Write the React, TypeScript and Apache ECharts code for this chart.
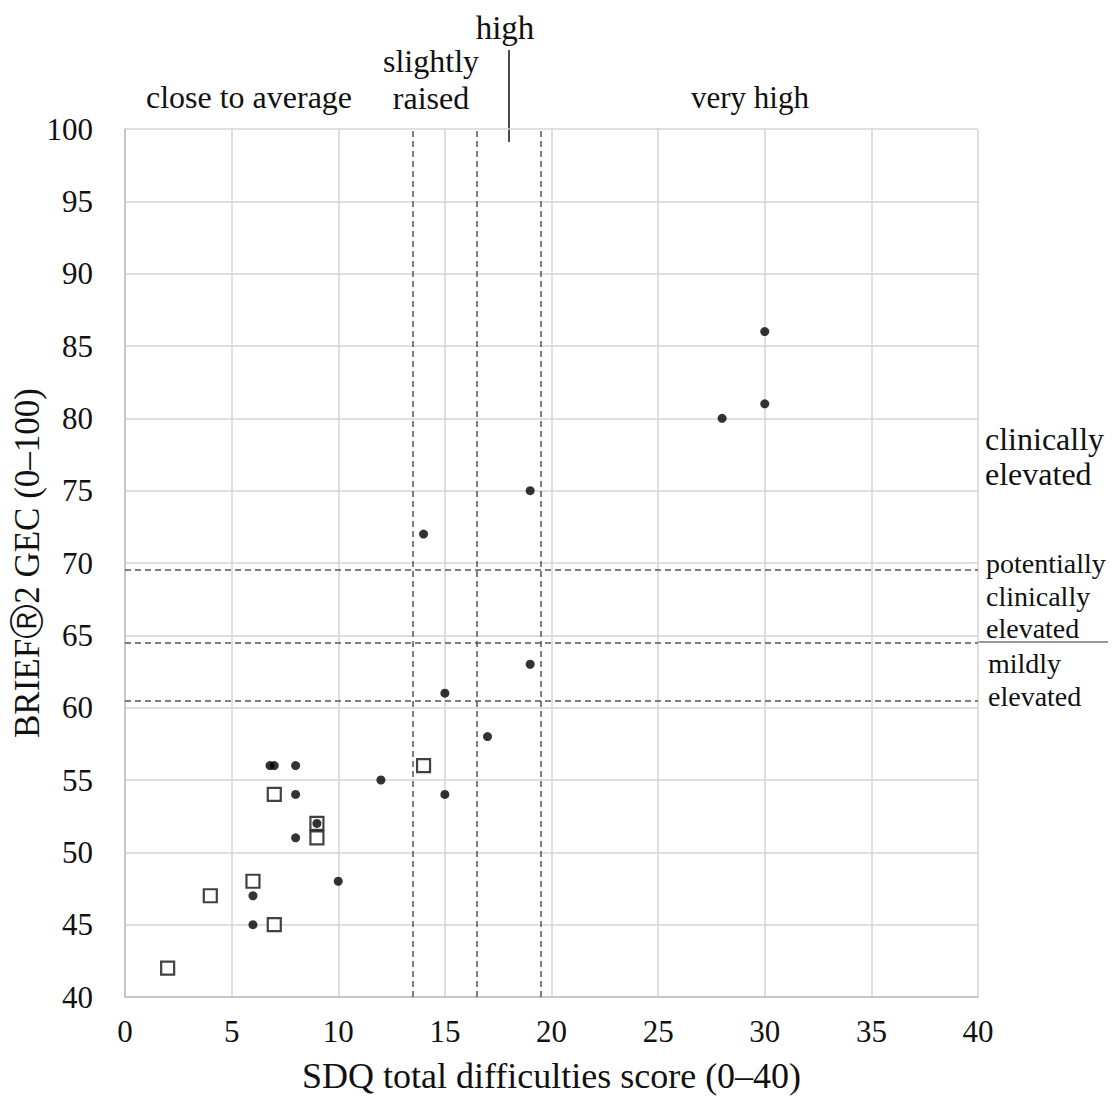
import React, { useEffect, useRef } from "react";
import * as echarts from "echarts";

const xTicks = [0, 5, 10, 15, 20, 25, 30, 35, 40];
const yTicks = [40, 45, 50, 55, 60, 65, 70, 75, 80, 85, 90, 95, 100];

// Filled dots (x = SDQ, y = BRIEF GEC)
const dotsX = [30, 30, 28, 19, 14, 19, 15, 17, 6.8, 7, 8, 12, 15, 8, 9, 8, 10, 6, 6];
const dotsY = [86, 81, 80, 75, 72, 63, 61, 58, 56, 56, 56, 55, 54, 54, 52, 51, 48, 47, 45];

// Open squares
const squaresX = [14, 7, 9, 9, 6, 4, 7, 2];
const squaresY = [56, 54, 52, 51, 48, 47, 45, 42];

const sdqCutoffs = [13.5, 16.5, 19.5];
const briefCutoffs = [69.5, 64.5, 60.5];

const SERIF = "'Liberation Serif', 'Times New Roman', serif";
const TXT = "#111111";

export default function App() {
  const ref = useRef<HTMLDivElement>(null);
  useEffect(() => {
    const chart = echarts.init(ref.current!, null, { renderer: "svg" });
    const dots = dotsX.map((x, i) => [x, dotsY[i]]);
    const squares = squaresX.map((x, i) => [x, squaresY[i]]);
    const txt = (text: string, x: number, y: number, align: string, size: number, lh: number) => ({
      type: "text",
      x,
      y,
      style: {
        text,
        fontFamily: SERIF,
        fontSize: size,
        lineHeight: lh,
        fill: TXT,
        align,
        verticalAlign: "middle",
      },
      silent: true,
    });
    chart.setOption({
      animation: false,
      backgroundColor: "#ffffff",
      grid: {
        left: 125,
        right: 134,
        top: 129,
        bottom: 103,
        containLabel: false,
        outerBoundsMode: "none",
      },
      xAxis: {
        type: "value",
        min: 0,
        max: 40,
        interval: 5,
        name: "SDQ total difficulties score (0\u201340)",
        nameLocation: "middle",
        nameGap: 61,
        nameMoveOverlap: false,
        nameTextStyle: { fontFamily: SERIF, fontSize: 36, color: TXT },
        axisLine: { show: true, lineStyle: { color: "#bfbfbf", width: 1.5 } },
        axisTick: { show: false },
        splitLine: { show: true, lineStyle: { color: "#d4d4d4", width: 1.5 } },
        axisLabel: {
          fontFamily: SERIF,
          fontSize: 31,
          color: TXT,
          margin: 19,
          formatter: (v: number) => (xTicks.includes(v) ? String(v) : ""),
        },
      },
      yAxis: {
        type: "value",
        min: 40,
        max: 100,
        interval: 5,
        name: "BRIEF\u24C72 GEC (0\u2013100)",
        nameLocation: "middle",
        nameGap: 80,
        nameMoveOverlap: false,
        nameRotate: 90,
        nameTextStyle: { fontFamily: SERIF, fontSize: 35, color: TXT },
        axisLine: { show: true, lineStyle: { color: "#bfbfbf", width: 1.5 } },
        axisTick: { show: false },
        splitLine: { show: true, lineStyle: { color: "#d4d4d4", width: 1.5 } },
        axisLabel: {
          fontFamily: SERIF,
          fontSize: 31,
          color: TXT,
          margin: 32,
          formatter: (v: number) => (yTicks.includes(v) ? String(v) : ""),
        },
      },
      series: [
        {
          type: "scatter",
          data: squares,
          symbol: "rect",
          symbolSize: 13,
          itemStyle: { color: "#ffffff", borderColor: "#111", borderWidth: 2.2 },
          z: 3,
          markLine: {
            silent: true,
            symbol: ["none", "none"],
            label: { show: false },
            lineStyle: { type: [6, 4], color: "#555", width: 1.5 },
            data: [
              ...sdqCutoffs.map((v) => ({ xAxis: v })),
              ...briefCutoffs.map((v) => ({ yAxis: v })),
            ],
          },
        },
        {
          type: "scatter",
          data: dots,
          symbol: "circle",
          symbolSize: 9,
          itemStyle: { color: "#000" },
          z: 4,
        },
      ],
      graphic: [
        txt("close to average", 249, 97, "center", 32, 30),
        txt("slightly\nraised", 431, 79, "center", 32, 37),
        txt("high", 505, 28, "center", 33, 30),
        txt("very high", 750, 97, "center", 31, 30),
        txt("clinically\nelevated", 985, 456, "left", 32, 35),
        txt("potentially\nclinically\nelevated", 986, 596, "left", 28, 32.5),
        txt("mildly\nelevated", 988, 680, "left", 28, 33),
        {
          type: "line",
          shape: { x1: 509, y1: 50, x2: 509, y2: 142 },
          style: { stroke: "#111", lineWidth: 1.5 },
          silent: true,
        },
        {
          type: "line",
          shape: { x1: 978, y1: 642, x2: 1108, y2: 642 },
          style: { stroke: "#333", lineWidth: 1.2 },
          silent: true,
        },
      ],
    });
    return () => chart.dispose();
  }, []);
  return (
    <div
      ref={ref}
      style={{ position: "absolute", left: 0, top: 0, width: 1112, height: 1100 }}
    />
  );
}
